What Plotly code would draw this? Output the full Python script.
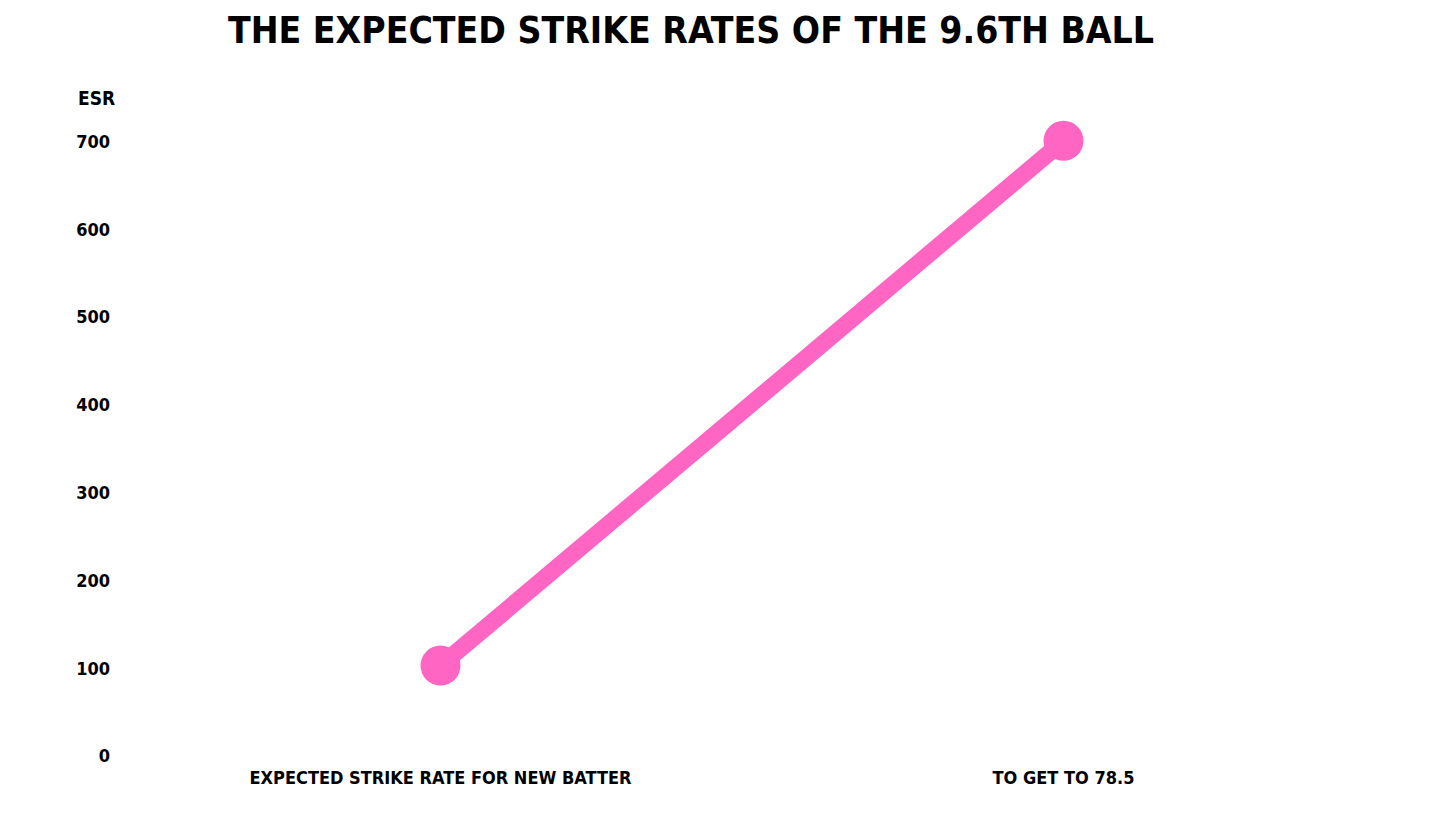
"""Line chart: expected strike rates of the 9.6th ball."""

import plotly.graph_objects as go

categories = ["EXPECTED STRIKE RATE FOR NEW BATTER", "TO GET TO 78.5"]
esr_values = [103, 701]
y_ticks = [0, 100, 200, 300, 400, 500, 600, 700]

PINK = "#FF66C4"
FONT = "DejaVu Sans Condensed"

fig = go.Figure()
fig.add_trace(
    go.Scatter(
        x=categories,
        y=esr_values,
        mode="lines+markers",
        line={"color": PINK, "width": 17},
        marker={"color": PINK, "size": 40},
        cliponaxis=False,
        hoverinfo="x+y",
    )
)

# the page body adds an 8px offset, so margins are shifted up/left by ~7px
fig.update_layout(
    width=1456,
    height=819,
    paper_bgcolor="white",
    plot_bgcolor="white",
    showlegend=False,
    margin={"l": 121, "r": 89, "t": 81, "b": 71},
    title={
        "text": "<b>THE EXPECTED STRIKE RATES OF THE 9.6TH BALL</b>",
        "x": 683 / 1456,
        "xanchor": "center",
        "xref": "container",
        "y": 1 - 22 / 819,
        "yanchor": "middle",
        "yref": "container",
        "font": {"family": FONT, "size": 37, "color": "black"},
    },
    font={"family": FONT, "color": "black"},
)

fig.update_xaxes(
    type="category",
    range=[-0.5, 1.5],
    showgrid=False,
    showline=False,
    zeroline=False,
    tickfont={"family": FONT, "size": 18, "color": "black", "weight": "bold"},
    ticklabelstandoff=9,
)
fig.update_yaxes(
    range=[0, 760],
    tickvals=y_ticks,
    ticktext=[str(v) for v in y_ticks],
    showgrid=False,
    showline=False,
    zeroline=False,
    tickfont={"family": FONT, "size": 18, "color": "black", "weight": "bold"},
    ticklabelstandoff=18,
)

fig.add_annotation(
    text="<b>ESR</b>",
    x=(95 - 128) / 1246,
    xref="paper",
    xanchor="center",
    y=750,
    yref="y",
    showarrow=False,
    font={"family": FONT, "size": 19, "color": "black"},
)

fig.write_html("out.html")
